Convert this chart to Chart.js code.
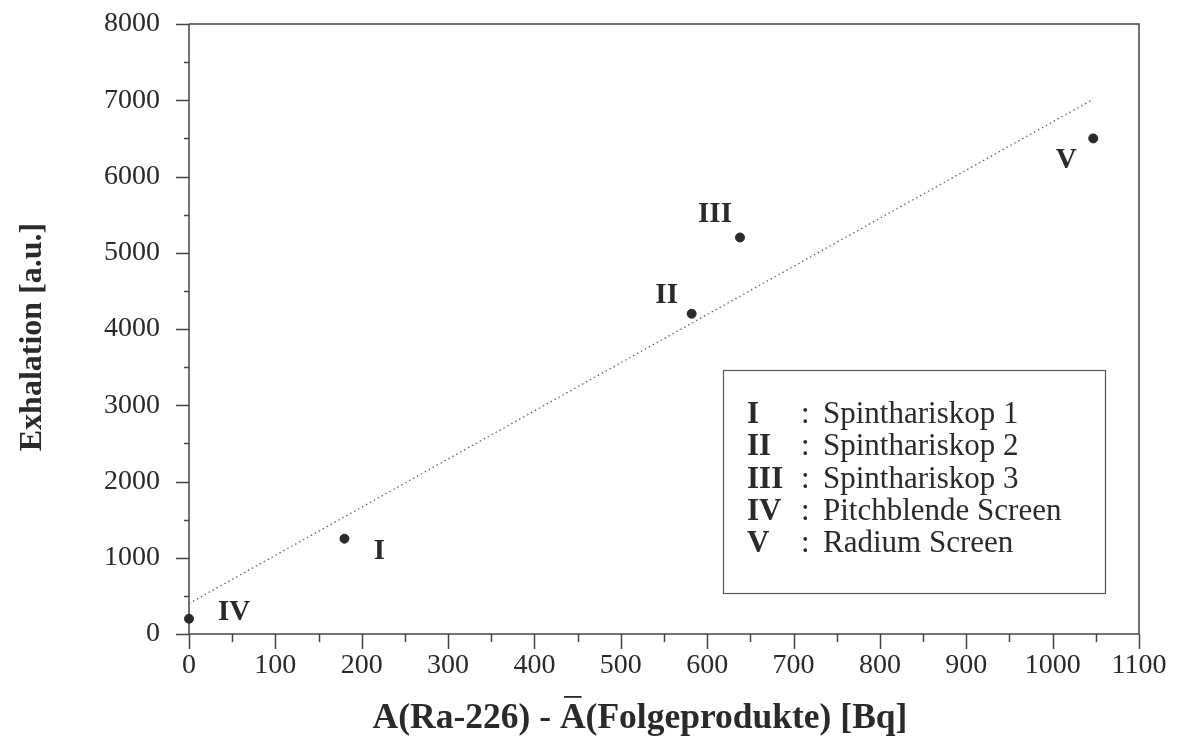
<!DOCTYPE html>
<html>
<head>
<meta charset="utf-8">
<script src="https://cdn.jsdelivr.net/npm/chart.js@4/dist/chart.umd.min.js"></script>
<style>
  html, body { margin: 0; padding: 0; background: #fff; }
  #wrap { width: 1178px; height: 751px; }
</style>
</head>
<body>
<div id="wrap"><canvas id="c" width="1178" height="751"></canvas></div>
<script>
// ---- data ----
const pointNames = ['I', 'II', 'III', 'IV', 'V'];
const activityBq = [180, 582, 638, 0, 1047];
const exhalation = [1250, 4200, 5200, 200, 6500];
const legendNames = ['Spinthariskop 1', 'Spinthariskop 2', 'Spinthariskop 3', 'Pitchblende Screen', 'Radium Screen'];
const fitX = [0, 1045];
const fitY = [400, 7000];
const xTickValues = [0, 100, 200, 300, 400, 500, 600, 700, 800, 900, 1000, 1100];
const yTickValues = [0, 1000, 2000, 3000, 4000, 5000, 6000, 7000, 8000];
const xTitle = ['A(Ra-226) - ', 'A', '(Folgeprodukte) [Bq]'];
const yTitle = 'Exhalation [a.u.]';

// label offsets (px) relative to each point, style only
const labelOffsets = [[35, 13], [-25, -18], [-25, -23], [45, -6], [-27, 22]];

const INK = '#2a2a2a';
const SERIF = '"Liberation Serif", "Times New Roman", serif';

const decor = {
  id: 'decor',
  beforeDatasetsDraw(chart) {
    const ctx = chart.ctx;
    const a = chart.chartArea;
    const xs = chart.scales.x, ys = chart.scales.y;
    ctx.save();
    ctx.strokeStyle = '#444';
    ctx.lineWidth = 1.5;
    // frame
    ctx.beginPath();
    ctx.moveTo(a.left, a.top); ctx.lineTo(a.right, a.top); ctx.lineTo(a.right, a.bottom);
    ctx.moveTo(a.left, a.top); ctx.lineTo(a.left, a.bottom); ctx.lineTo(a.right, a.bottom);
    ctx.stroke();
    // ticks (major outward, minor shorter)
    ctx.beginPath();
    for (let v = 0; v <= 8000; v += 500) {
      const p = Math.round(ys.getPixelForValue(v)) + 0.5;
      const len = (v % 1000 === 0) ? 13 : 5;
      ctx.moveTo(a.left - len, p); ctx.lineTo(a.left, p);
    }
    for (let v = 0; v <= 1100; v += 50) {
      const p = Math.round(xs.getPixelForValue(v)) + 0.5;
      const len = (v % 100 === 0) ? 15 : 8;
      ctx.moveTo(p, a.bottom); ctx.lineTo(p, a.bottom + len);
    }
    ctx.stroke();
    ctx.restore();
  },
  afterDraw(chart) {
    const ctx = chart.ctx;
    const a = chart.chartArea;
    const xs = chart.scales.x, ys = chart.scales.y;
    ctx.save();
    // tick labels
    ctx.fillStyle = INK;
    ctx.font = '28px ' + SERIF;
    ctx.textBaseline = 'middle';
    ctx.textAlign = 'right';
    yTickValues.forEach(v => ctx.fillText(String(v), a.left - 29, ys.getPixelForValue(v)));
    ctx.textAlign = 'center';
    xTickValues.forEach(v => ctx.fillText(String(v), xs.getPixelForValue(v), a.bottom + 32));

    // point labels
    ctx.font = 'bold 29px ' + SERIF;
    ctx.textAlign = 'center';
    ctx.textBaseline = 'middle';
    const meta = chart.getDatasetMeta(1);
    meta.data.forEach((el, i) => {
      const off = labelOffsets[i];
      ctx.fillText(pointNames[i], el.x + off[0], el.y + off[1]);
    });

    // legend box
    const bx = a.left + 534, by = a.top + 346, bw = 382, bh = 223;
    ctx.strokeStyle = '#555';
    ctx.lineWidth = 1.2;
    ctx.strokeRect(bx + 0.5, by + 0.5, bw, bh);
    ctx.textAlign = 'left';
    ctx.textBaseline = 'alphabetic';
    const lineH = 32.3;
    for (let i = 0; i < pointNames.length; i++) {
      const yy = by + 53 + i * lineH;
      ctx.font = 'bold 31px ' + SERIF;
      ctx.fillText(pointNames[i], bx + 24, yy);
      ctx.font = '31px ' + SERIF;
      ctx.fillText(':', bx + 78, yy);
      ctx.fillText(legendNames[i], bx + 100, yy);
    }

    // axis titles
    ctx.font = 'bold 35.5px ' + SERIF;
    ctx.textBaseline = 'alphabetic';
    const w0 = ctx.measureText(xTitle[0]).width;
    const w1 = ctx.measureText(xTitle[1]).width;
    const w2 = ctx.measureText(xTitle[2]).width;
    const tx = 640 - (w0 + w1 + w2) / 2, ty = 728;
    ctx.textAlign = 'left';
    ctx.fillText(xTitle[0], tx, ty);
    ctx.fillText(xTitle[1], tx + w0, ty);
    ctx.fillText(xTitle[2], tx + w0 + w1, ty);
    ctx.fillRect(tx + w0 + 4, ty - 32, w1 - 8, 1.8);

    ctx.font = 'bold 32px ' + SERIF;
    ctx.save();
    ctx.translate(33, 337);
    ctx.rotate(-Math.PI / 2);
    ctx.textAlign = 'center';
    ctx.textBaseline = 'middle';
    ctx.fillText(yTitle, 0, 0);
    ctx.restore();
    ctx.restore();
  }
};

new Chart(document.getElementById('c'), {
  type: 'scatter',
  data: {
    datasets: [
      {
        type: 'line',
        data: fitX.map((x, i) => ({ x, y: fitY[i] })),
        borderColor: '#666',
        borderWidth: 1.3,
        borderDash: [1.5, 3],
        pointRadius: 0,
        fill: false
      },
      {
        data: activityBq.map((x, i) => ({ x, y: exhalation[i] })),
        backgroundColor: INK,
        borderColor: INK,
        pointRadius: 4.5,
        pointHoverRadius: 4.5,
        clip: false
      }
    ]
  },
  options: {
    responsive: false,
    animation: false,
    events: [],
    layout: { padding: { top: 24, right: 39, left: 0, bottom: 0 } },
    plugins: { legend: { display: false }, tooltip: { enabled: false } },
    scales: {
      x: {
        type: 'linear', min: 0, max: 1100,
        afterFit(s) { s.height = 117; },
        grid: { display: false },
        border: { display: false },
        ticks: { display: false }
      },
      y: {
        type: 'linear', min: 0, max: 8000,
        afterFit(s) { s.width = 189; },
        grid: { display: false },
        border: { display: false },
        ticks: { display: false }
      }
    }
  },
  plugins: [decor]
});
</script>
</body>
</html>
